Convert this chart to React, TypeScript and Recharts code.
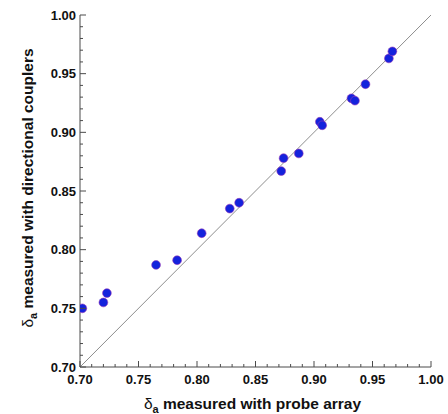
import {
  ScatterChart,
  Scatter,
  XAxis,
  YAxis,
  ReferenceLine,
  Label,
} from "recharts";

// δa from probe array (x) vs directional couplers (y)
const probeArray = [
  0.702, 0.72, 0.723, 0.765, 0.783, 0.804, 0.828, 0.836, 0.872, 0.874, 0.887,
  0.905, 0.907, 0.932, 0.935, 0.944, 0.964, 0.967,
];
const couplers = [
  0.75, 0.755, 0.763, 0.787, 0.791, 0.814, 0.835, 0.84, 0.867, 0.878, 0.882,
  0.909, 0.906, 0.929, 0.927, 0.941, 0.963, 0.969,
];

const tickValues = [
  0.7, 0.71, 0.72, 0.73, 0.74, 0.75, 0.76, 0.77, 0.78, 0.79, 0.8, 0.81, 0.82,
  0.83, 0.84, 0.85, 0.86, 0.87, 0.88, 0.89, 0.9, 0.91, 0.92, 0.93, 0.94, 0.95,
  0.96, 0.97, 0.98, 0.99, 1.0,
];

const FONT = "'Liberation Sans', Arial, Helvetica, sans-serif";
const AXIS_COLOR = "#4a4a4a";

const points = probeArray.map((x, i) => ({ x, y: couplers[i] }));

const isMajor = (v: number) => Math.round(v * 100) % 5 === 0;
const tickLen = (v: number) => (isMajor(v) ? 6 : 3);

const BottomTick = ({ x, y, payload }: any) => {
  const v = payload.value;
  return (
    <g>
      <line x1={x} x2={x} y1={y} y2={y - tickLen(v)} stroke={AXIS_COLOR} />
      {isMajor(v) && (
        <text
          x={x}
          y={y + 17}
          textAnchor="middle"
          fontFamily={FONT}
          fontWeight="bold"
          fontSize={13}
          fill="#111"
        >
          {v.toFixed(2)}
        </text>
      )}
    </g>
  );
};

const TopTick = ({ x, y, payload }: any) => (
  <line x1={x} x2={x} y1={y} y2={y + tickLen(payload.value)} stroke={AXIS_COLOR} />
);

const LeftTick = ({ x, y, payload }: any) => {
  const v = payload.value;
  return (
    <g>
      <line x1={x} x2={x + tickLen(v)} y1={y} y2={y} stroke={AXIS_COLOR} />
      {isMajor(v) && (
        <text
          x={x - 4}
          y={y}
          dy={4.6}
          textAnchor="end"
          fontFamily={FONT}
          fontWeight="bold"
          fontSize={13}
          fill="#111"
        >
          {v.toFixed(2)}
        </text>
      )}
    </g>
  );
};

const RightTick = ({ x, y, payload }: any) => (
  <line x1={x} x2={x - tickLen(payload.value)} y1={y} y2={y} stroke={AXIS_COLOR} />
);

const Dot = ({ cx, cy }: any) => (
  <circle cx={cx} cy={cy} r={4.4} fill="#1422dc" stroke="#9a3ab8" strokeWidth={0.6} />
);

const titleText = (rest: string) => [
  <tspan key="d" fontWeight="normal">δ</tspan>,
  <tspan key="a" fontSize={11} dy={4}>a</tspan>,
  <tspan key="r" dy={-4}>{" " + rest}</tspan>,
];

export default function App() {
  return (
    <div style={{ position: "absolute", left: 0, top: 0, background: "#fff" }}>
      <ScatterChart
        width={448}
        height={414}
        margin={{ top: 15, right: 17, bottom: 17, left: 0 }}
      >
        <XAxis
          type="number"
          dataKey="x"
          domain={[0.7, 1.0]}
          ticks={tickValues}
          interval={0}
          tickSize={0}
          tickMargin={0}
          tick={<BottomTick />}
          tickLine={false}
          axisLine={{ stroke: AXIS_COLOR }}
          height={30}
          allowDataOverflow
        >
          <Label
            content={({ viewBox }: any) => (
              <text
                x={viewBox.x + viewBox.width / 2 - 3}
                y={viewBox.y + 42}
                textAnchor="middle"
                fontFamily={FONT}
                fontWeight="bold"
                fontSize={15.5}
                fill="#111"
              >
                {titleText("measured with probe array")}
              </text>
            )}
          />
        </XAxis>
        <XAxis
          xAxisId="top"
          orientation="top"
          type="number"
          domain={[0.7, 1.0]}
          ticks={tickValues}
          interval={0}
          tickSize={0}
          tickMargin={0}
          tick={<TopTick />}
          tickLine={false}
          axisLine={{ stroke: AXIS_COLOR }}
          height={0}
          allowDataOverflow
        />
        <YAxis
          type="number"
          dataKey="y"
          domain={[0.7, 1.0]}
          ticks={tickValues}
          interval={0}
          tickSize={0}
          tickMargin={0}
          tick={<LeftTick />}
          tickLine={false}
          axisLine={{ stroke: AXIS_COLOR }}
          width={80}
          allowDataOverflow
        >
          <Label
            content={() => (
              <text
                x={33}
                y={188}
                transform="rotate(-90 33 188)"
                textAnchor="middle"
                fontFamily={FONT}
                fontWeight="bold"
                fontSize={15.5}
                fill="#111"
              >
                {titleText("measured with directional couplers")}
              </text>
            )}
          />
        </YAxis>
        <YAxis
          yAxisId="right"
          orientation="right"
          type="number"
          domain={[0.7, 1.0]}
          ticks={tickValues}
          interval={0}
          tickSize={0}
          tickMargin={0}
          tick={<RightTick />}
          tickLine={false}
          axisLine={{ stroke: AXIS_COLOR }}
          width={0}
          allowDataOverflow
        />
        <ReferenceLine
          segment={[
            { x: 0.7, y: 0.7 },
            { x: 1.0, y: 1.0 },
          ]}
          stroke="#8e8e8e"
          strokeWidth={1}
        />
        <Scatter data={points} shape={<Dot />} isAnimationActive={false} />
      </ScatterChart>
    </div>
  );
}
